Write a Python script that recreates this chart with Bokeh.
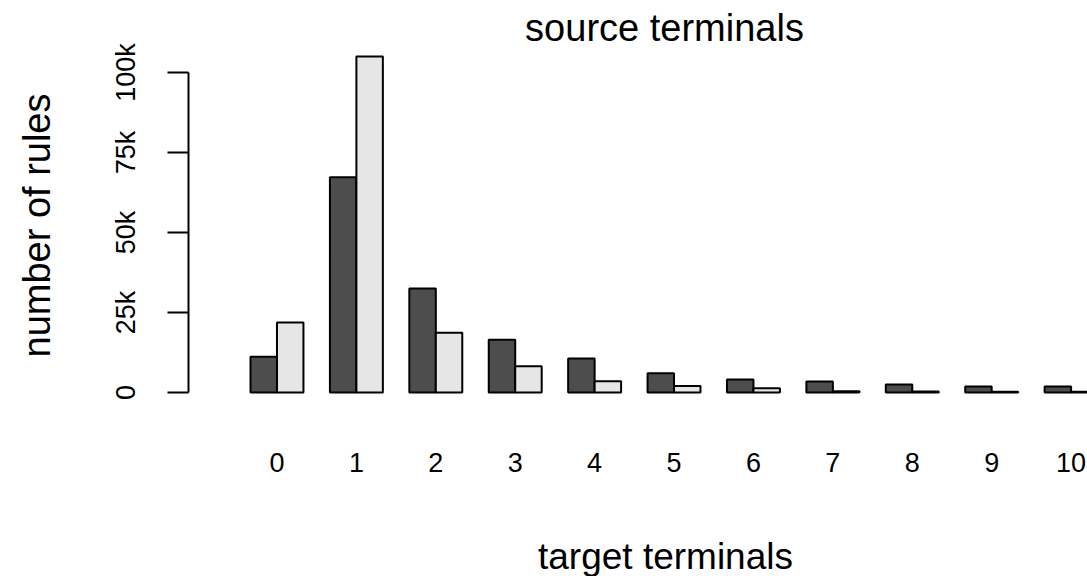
import math
from bokeh.plotting import figure
from bokeh.models import FixedTicker, Range1d, ColumnDataSource, Label
from bokeh.embed import file_html
from bokeh.resources import INLINE

# ---- data ----
categories = ["0", "1", "2", "3", "4", "5", "6", "7", "8", "9", "10"]
source_rules = [11200, 67300, 32500, 16500, 10600, 6000, 4100, 3400, 2500, 1900, 1900]
target_rules = [21900, 105000, 18700, 8200, 3500, 2000, 1300, 400, 300, 250, 200]
y_tick_values = [0, 25000, 50000, 75000, 100000]
y_tick_labels = ["0", "25k", "50k", "75k", "100k"]

FONT = "Liberation Sans"

n = len(categories)
# R barplot(beside=TRUE) geometry: each group = 2 bars of width 1 + 1 space
dark_x = [3 * i + 1.5 for i in range(n)]
light_x = [3 * i + 2.5 for i in range(n)]
centers = [3 * i + 2 for i in range(n)]

# the frame fills the whole canvas; both axes are pinned inside it
p = figure(width=1087, height=576, output_backend="svg", toolbar_location=None,
           x_range=Range1d(-8.445, 32.62), y_range=Range1d(-57500, 122500),
           min_border_left=0, min_border_right=0, min_border_top=0,
           min_border_bottom=0)

src_d = ColumnDataSource(dict(x=dark_x, top=source_rules, cat=categories))
src_l = ColumnDataSource(dict(x=light_x, top=target_rules, cat=categories))
p.vbar(x="x", top="top", bottom=0, width=1, source=src_d,
       fill_color="#4d4d4d", line_color="black", line_width=2)
p.vbar(x="x", top="top", bottom=0, width=1, source=src_l,
       fill_color="#e6e6e6", line_color="black", line_width=2)

p.grid.visible = False
p.outline_line_color = None
p.background_fill_color = "white"
p.border_fill_color = "white"
p.title.visible = False

# y axis (pinned where R draws it)
ya = p.yaxis[0]
ya.fixed_location = -1.342
ya.ticker = FixedTicker(ticks=y_tick_values)
ya.major_label_overrides = {v: l for v, l in zip(y_tick_values, y_tick_labels)}
ya.bounds = (0, 100000)
ya.axis_line_width = 2
ya.axis_line_color = "black"
ya.major_tick_line_width = 2
ya.major_tick_line_color = "black"
ya.major_tick_out = 21
ya.major_tick_in = 0
ya.minor_tick_line_color = None
ya.major_label_orientation = "vertical"
ya.major_label_text_font = FONT
ya.major_label_text_font_size = "27px"
ya.major_label_text_color = "black"
ya.major_label_standoff = 27

# x axis (category labels only, no line or ticks)
xa = p.xaxis[0]
xa.fixed_location = -2500
xa.ticker = FixedTicker(ticks=centers)
xa.major_label_overrides = {c: lab for c, lab in zip(centers, categories)}
xa.axis_line_color = None
xa.major_tick_line_color = None
xa.minor_tick_line_color = None
xa.major_label_text_font = FONT
xa.major_label_text_font_size = "27px"
xa.major_label_text_color = "black"
xa.major_label_standoff = 46

# title and axis titles
title = Label(x=664, y=549, x_units="screen", y_units="screen",
              text="source terminals", text_align="center",
              text_baseline="alphabetic", text_font=FONT,
              text_font_size="38px", text_color="black")
xlabel = Label(x=665, y=20, x_units="screen", y_units="screen",
               text="target terminals", text_align="center",
               text_baseline="alphabetic", text_font=FONT,
               text_font_size="37px", text_color="black")
ylabel = Label(x=36, y=351, x_units="screen", y_units="screen",
               angle=math.pi / 2,
               text="number of rules", text_align="center",
               text_baseline="alphabetic", text_font=FONT,
               text_font_size="38px", text_color="black")
p.add_layout(title)
p.add_layout(xlabel)
p.add_layout(ylabel)

open("out.html", "w").write(file_html(p, INLINE))
